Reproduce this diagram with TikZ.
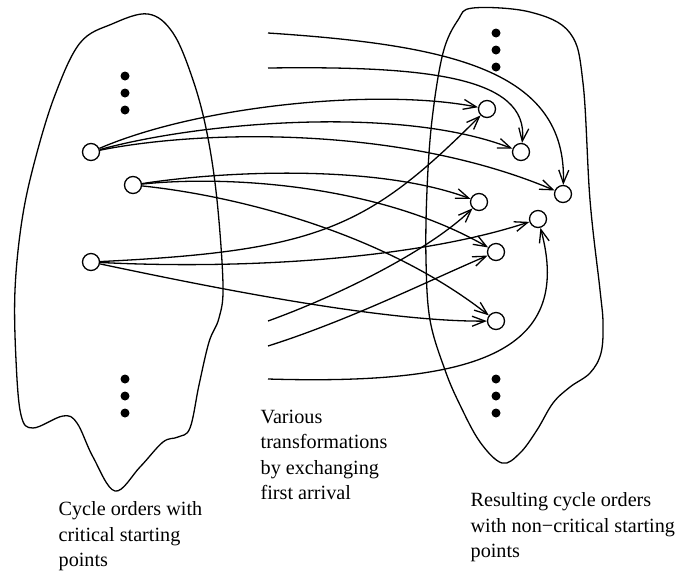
\documentclass[tikz,border=0pt]{standalone}
\usepackage{fontspec}
\setmainfont{Liberation Serif}
\usetikzlibrary{arrows.meta}
\tikzset{
	cyc/.style={circle, draw, minimum size=17pt, inner sep=0pt},
	more/.style={circle, fill, minimum size=9pt, inner sep=0pt},
	exch/.style={-{Straight Barb[length=13pt,width=10pt]}},
	caption/.style={anchor=north west, align=left, inner sep=0pt, font=\fontsize{20.2}{25.5}\selectfont}
}

\begin{document}
\begin{tikzpicture}[x=1pt, y=-1pt, line width=1.3pt]
	\useasboundingbox (0,0) rectangle (676,571);
	%\draw[help lines, step=50] (0,0) grid (676,571);
	\draw plot[smooth cycle, tension=0.6] coordinates {(148,14) (173,33) (193,80) (207,133) (217,200) (223,285) (219,318) (209,342) (199,385) (190,428) (178,437) (163,442) (140,467) (115,491) (93,457) (77,423) (63,416) (33,428) (21,415) (16,360) (15,290) (22,220) (35,160) (55,95) (80,43) (112,24)};%left blob
	\draw plot[smooth cycle, tension=0.6] coordinates {(473,8) (530,12) (570,33) (583,83) (590,200) (600,290) (603,323) (601,353) (590,373) (570,387) (553,403) (537,430) (520,453) (502,463) (480,442) (460,405) (445,370) (430,320) (426,260) (427,190) (432,120) (443,53) (458,20)};%right blob

	\foreach \y in {76,93,110,379,396,413}
		\node[more] (lmore\y) at (125,\y) {};
	\foreach \y in {33,50,67,379,396,413}
		\node[more] (rmore\y) at (496,\y) {};

	\node[cyc] (crit1) at (91,152) {};
	\node[cyc] (crit2) at (133,185) {};
	\node[cyc] (crit3) at (91,262) {};

	\node[cyc] (res1) at (487,109) {};
	\node[cyc] (res2) at (521,152) {};
	\node[cyc] (res3) at (563,194) {};
	\node[cyc] (res4) at (479,202) {};
	\node[cyc] (res5) at (538,219) {};
	\node[cyc] (res6) at (496,252) {};
	\node[cyc] (res7) at (496,321) {};

	\coordinate (stub1) at (268,33);
	\coordinate (stub2) at (268,68);
	\coordinate (stub3) at (268,321);
	\coordinate (stub4) at (268,346);
	\coordinate (stub5) at (268,379);

	\draw[exch] (crit1) .. controls (200,105) and (380,88) .. (res1);
	\draw[exch] (crit1) .. controls (200,122) and (400,105) .. (res2);
	\draw[exch] (crit1) .. controls (200,130) and (400,125) .. (res3);
	\draw[exch] (crit2) .. controls (230,170) and (380,165) .. (res4);
	\draw[exch] (crit2) .. controls (230,175) and (380,185) .. (res6);
	\draw[exch] (crit2) .. controls (230,195) and (380,230) .. (res7);
	\draw[exch] (crit3) .. controls (319,251) and (368,228) .. (res1);
	\draw[exch] (crit3) .. controls (250,270) and (420,258) .. (res5);
	\draw[exch] (crit3) .. controls (200,285) and (380,322) .. (res7);

	\draw[exch] (stub1) .. controls (450,45) and (567,70) .. (res3);
	\draw[exch] (stub2) .. controls (420,66) and (530,75) .. (res2);
	\draw[exch] (stub3) .. controls (340,295) and (430,250) .. (res4);
	\draw[exch] (stub4) .. controls (350,320) and (430,280) .. (res6);
	\draw[exch] (stub5) .. controls (470,385) and (575,355) .. (res5);

	\node[caption] (critlabel) at (58,501) {Cycle orders with\\critical starting\\points};
	\node[caption] (translabel) at (260,409) {Various\\transformations\\by exchanging\\first arrival};
	\node[caption] (reslabel) at (470,492) {Resulting cycle orders\\with non−critical starting\\points};
\end{tikzpicture}
\end{document}
